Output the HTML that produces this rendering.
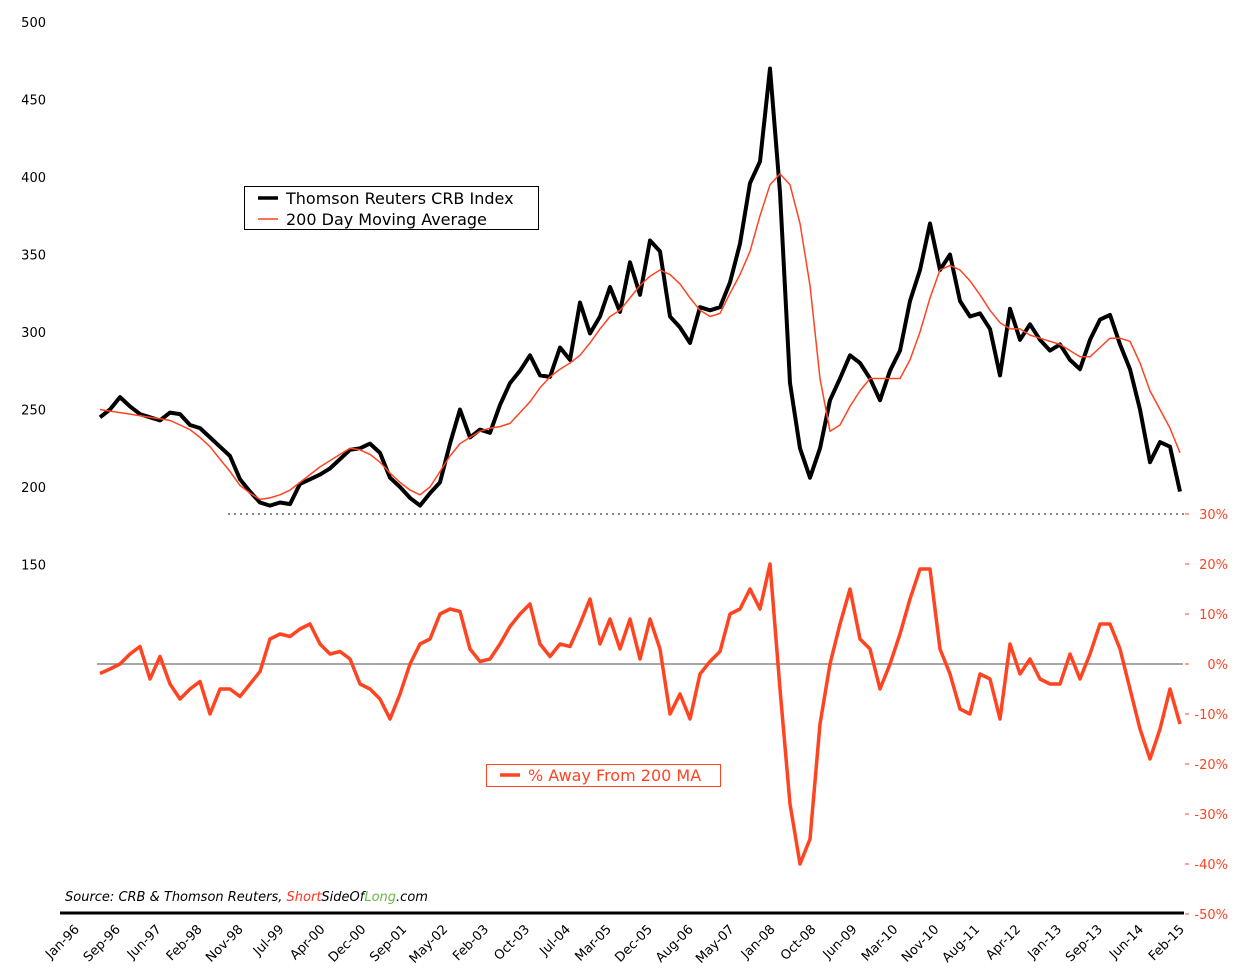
<!DOCTYPE html>
<html><head><meta charset="utf-8"><style>
html,body{margin:0;padding:0;background:#fff;}
svg{display:block;font-family:"DejaVu Sans","Liberation Sans",sans-serif;}
</style></head><body>
<svg id="chart" width="1252" height="976" viewBox="0 0 1252 976" xmlns="http://www.w3.org/2000/svg">
<g id="axes"></g>
<g id="series"></g>
<g>
<rect x="244.5" y="186.5" width="294" height="43" fill="#fff" stroke="#000" stroke-width="1"/>
<line x1="258" y1="198" x2="278" y2="198" stroke="#000" stroke-width="3.5"/>
<text x="286" y="204" font-size="16" fill="#000">Thomson Reuters CRB Index</text>
<line x1="258" y1="219" x2="278" y2="219" stroke="#ff4422" stroke-width="1.5"/>
<text x="286" y="225" font-size="16" fill="#000">200 Day Moving Average</text>
</g>
<g>
<rect x="486.5" y="764.5" width="234" height="22" fill="#fff" stroke="#ff4422" stroke-width="1"/>
<line x1="500" y1="775" x2="520" y2="775" stroke="#ff4422" stroke-width="3.5"/>
<text x="528" y="781" font-size="16" fill="#ff4422">% Away From 200 MA</text>
</g>
<text x="65" y="901" font-size="13" font-style="italic" fill="#000">Source: CRB &amp; Thomson Reuters, <tspan fill="#ff3322">Short</tspan>SideOf<tspan fill="#66bb44">Long</tspan>.com</text>
</svg>
<script>
const priceVals=[245,250,258,252,247,245,243,248,247,240,238,232,226,220,205,197,190,188,190,189,202,205,208,212,218,224,225,228,222,206,200,193,188,196,203,228,250,232,237,235,253,267,275,285,272,271,290,282,319,299,310,329,313,345,324,359,352,310,303,293,316,314,316,332,357,396,410,470,390,267,225,206,225,256,270,285,280,270,256,275,288,320,340,370,340,350,320,310,312,302,272,315,295,305,295,288,292,282,276,295,308,311,292,276,250,216,229,226,197];
const maVals=[250,249,248,247,246,245,244,243,240,237,232,226,218,210,201,196,192,193,195,198,203,208,213,217,221,225,224,221,216,209,203,198,195,200,210,220,228,232,236,238,239,241,248,255,264,271,276,280,285,293,302,310,314,322,330,336,340,337,331,322,314,310,312,325,337,352,375,395,402,395,370,330,270,236,240,252,262,270,270,270,270,282,300,322,340,343,340,333,324,314,306,302,302,298,296,294,292,288,284,284,290,296,296,294,280,262,250,238,222];
const pctVals=[-1.9,-1,0,2,3.5,-3,1.5,-4,-7,-5,-3.5,-10,-5,-5,-6.5,-4,-1.5,5,6,5.5,7,8,4,2,2.5,1,-4,-5,-7,-11,-6,0,4,5,10,11,10.5,3,0.5,1,4,7.5,10,12,4,1.5,4,3.5,8,13,4,9,3,9,1,9,3,-10,-6,-11,-2,0.5,2.5,10,11,15,11,20,-5,-28,-40,-35,-12,0,8,15,5,3,-5,0,6,13,19,19,3,-2,-9,-10,-2,-3,-11,4,-2,1,-3,-4,-4,2,-3,2,8,8,3,-5,-13,-19,-13,-5,-12];
const leftTicks=[500,450,400,350,300,250,200,150];
const rightTicks=[30,20,10,0,-10,-20,-30,-40,-50];
const dateLabels=["Jan-96","Sep-96","Jun-97","Feb-98","Nov-98","Jul-99","Apr-00","Dec-00","Sep-01","May-02","Feb-03","Oct-03","Jul-04","Mar-05","Dec-05","Aug-06","May-07","Jan-08","Oct-08","Jun-09","Mar-10","Nov-10","Aug-11","Apr-12","Jan-13","Sep-13","Jun-14","Feb-15"];

const NS="http://www.w3.org/2000/svg";
const axes=document.getElementById('axes');
const series=document.getElementById('series');
function xS(i,n){return 100+i*(1180-100)/(n-1);}
function yP(v){return 487-(v-200)*1.55;}
function yR(p){return 664-p*5;}
function mk(tag,attrs,parent){const e=document.createElementNS(NS,tag);for(const k in attrs)e.setAttribute(k,attrs[k]);parent.appendChild(e);return e;}

leftTicks.forEach(v=>{
  const t=mk('text',{x:46,y:yP(v)+5,'font-size':13,'text-anchor':'end',fill:'#000'},axes);
  
  
  t.textContent=v;
});
rightTicks.forEach(p=>{
  const t=mk('text',{x:1228,y:yR(p)+5,'font-size':13,'text-anchor':'end',fill:'#ff4422'},axes);
  
  
  t.textContent=p+'%';
  const tk=mk('line',{x1:1185,x2:1189,y1:yR(p),y2:yR(p),stroke:'#ff4422','stroke-width':1},axes);
  
  
});
const dl=mk('line',{x1:228,x2:1186,y1:514,y2:514,stroke:'#888','stroke-width':2,'stroke-dasharray':'2,4'},axes);


const zl=mk('line',{x1:97,x2:1183,y1:664,y2:664,stroke:'#888','stroke-width':1.5},axes);


const xa=mk('line',{x1:60,x2:1184,y1:913,y2:913,stroke:'#000','stroke-width':3},axes);


dateLabels.forEach((d,i)=>{
  const x=80+i*(1185-80)/(dateLabels.length-1);
  const t=mk('text',{x:x,y:930,'font-size':13,'text-anchor':'end',fill:'#000',transform:`rotate(-45 ${x} 930)`},axes);
  
  
  t.textContent=d;
});
function pathFor(vals,yf){return vals.map((v,i)=>(i?'L':'M')+xS(i,vals.length).toFixed(1)+' '+yf(v).toFixed(1)).join(' ');}
const pl=mk('path',{d:pathFor(priceVals,yP),fill:'none',stroke:'#000','stroke-width':4,'stroke-linejoin':'round'},series);


const ml=mk('path',{d:pathFor(maVals,yP),fill:'none',stroke:'#ff4422','stroke-width':1.5,'stroke-linejoin':'round'},series);


const pc=mk('path',{d:pathFor(pctVals,yR),fill:'none',stroke:'#ff4422','stroke-width':3.5,'stroke-linejoin':'round'},series);


</script>
</body></html>
